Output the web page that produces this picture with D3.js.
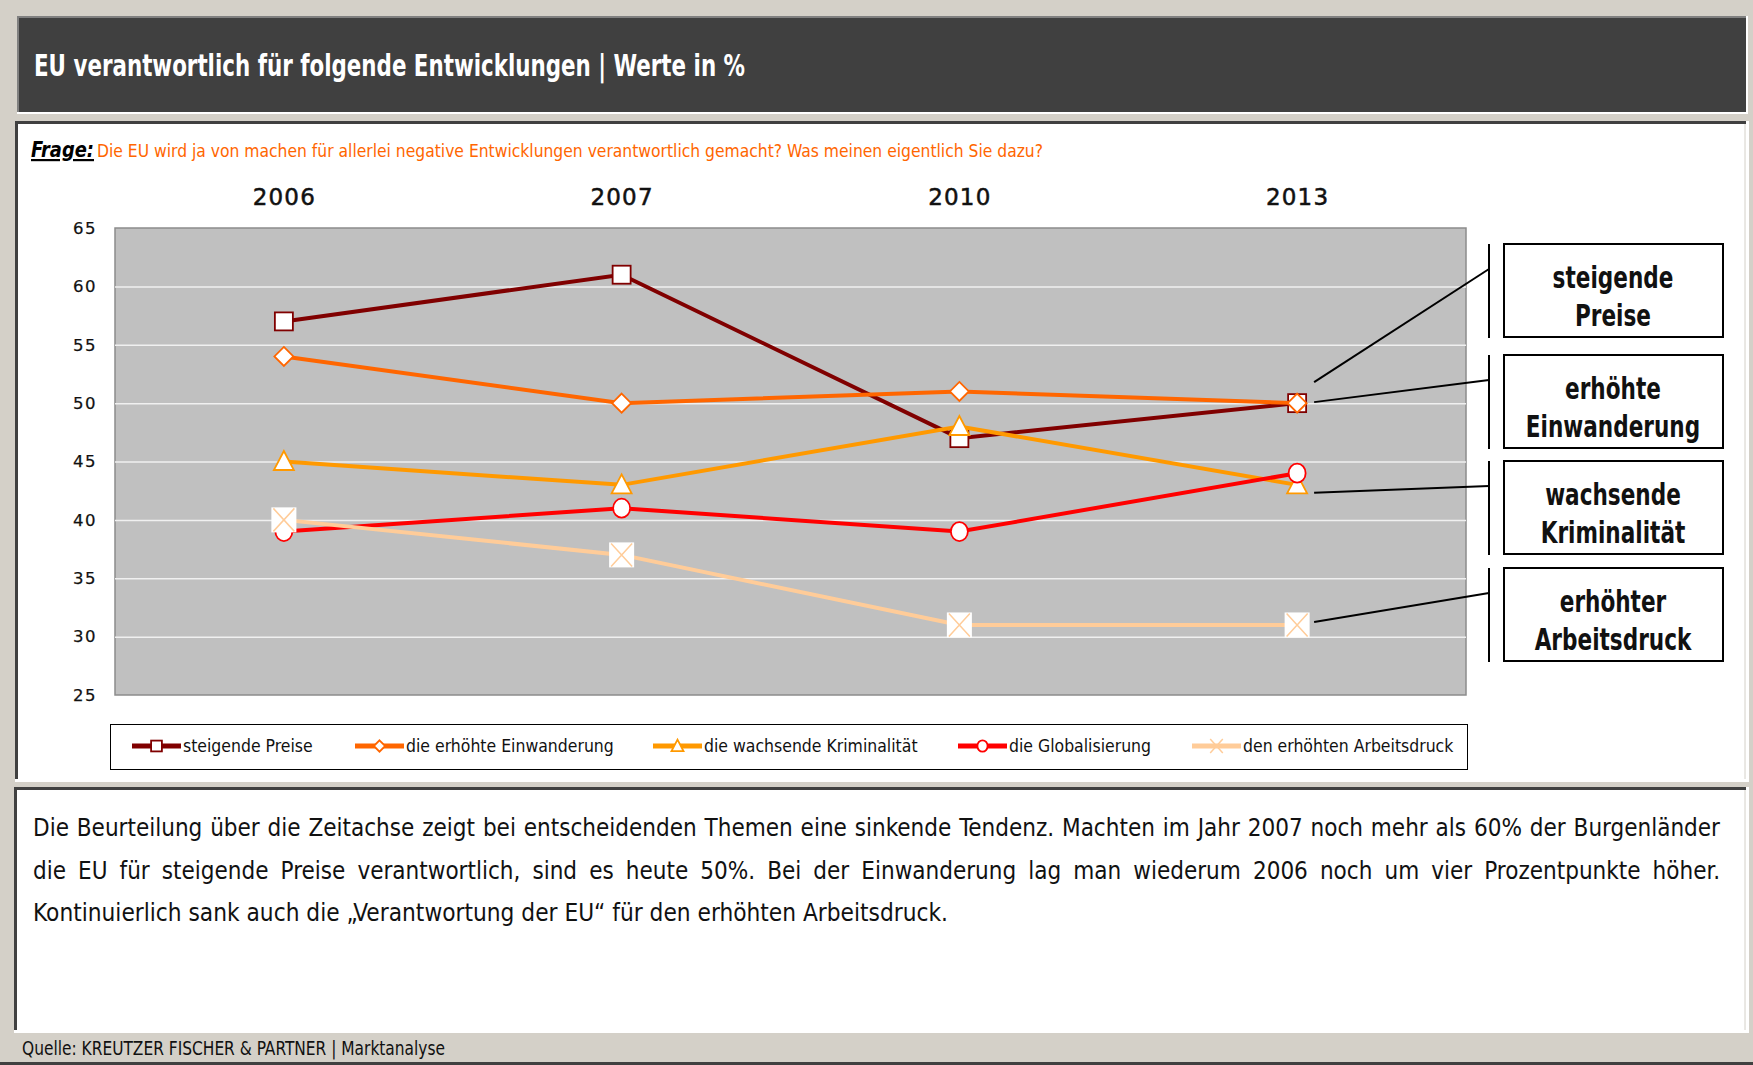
<!DOCTYPE html>
<html>
<head>
<meta charset="utf-8">
<script src="https://cdn.jsdelivr.net/npm/d3@7"></script>
<style>
  body { margin: 0; background: #d4d0c8; }
  svg { display: block; }
</style>
</head>
<body>
<div id="chart"></div>
<script>
// data
var years = ['2006', '2007', '2010', '2013']
var yTicks = [25, 30, 35, 40, 45, 50, 55, 60, 65]
var preise = [57, 61, 47, 50]
var einwanderung = [54, 50, 51, 50]
var kriminalitaet = [45, 43, 48, 43]
var globalisierung = [39, 41, 39, 44]
var arbeitsdruck = [40, 37, 31, 31]
var seriesNames = ['steigende Preise', 'die erhöhte Einwanderung', 'die wachsende Kriminalität', 'die Globalisierung', 'den erhöhten Arbeitsdruck']
var seriesColors = ['#800000', '#ff6600', '#ff9900', '#ff0000', '#ffcc99']
var seriesMarkers = ['square', 'diamond', 'triangle', 'circle', 'cross']
var calloutLabels = [['steigende', 'Preise'], ['erhöhte', 'Einwanderung'], ['wachsende', 'Kriminalität'], ['erhöhter', 'Arbeitsdruck']]
var calloutSeries = [0, 1, 2, 4]

var titleText = 'EU verantwortlich für folgende Entwicklungen | Werte in %'
var frageLabel = 'Frage:'
var frageText = 'Die EU wird ja von machen für allerlei negative Entwicklungen verantwortlich gemacht? Was meinen eigentlich Sie dazu?'
var bodyLines = [
  'Die Beurteilung über die Zeitachse zeigt bei entscheidenden Themen eine sinkende Tendenz. Machten im Jahr 2007 noch mehr als 60% der Burgenländer',
  'die EU für steigende Preise verantwortlich, sind es heute 50%. Bei der Einwanderung lag man wiederum 2006 noch um vier Prozentpunkte höher.',
  'Kontinuierlich sank auch die „Verantwortung der EU“ für den erhöhten Arbeitsdruck.'
]
var sourceText = 'Quelle: KREUTZER FISCHER & PARTNER | Marktanalyse'

var allSeries = [preise, einwanderung, kriminalitaet, globalisierung, arbeitsdruck]

var width = 1753, height = 1065
var narrow = "'Liberation Sans Narrow','DejaVu Sans Condensed','Open Sans',sans-serif"
var plot = { left: 115, right: 1466, top: 228, bottom: 695 }

var svg = d3.select('#chart')
  .append('svg')
  .attr('width', width)
  .attr('height', height)

svg.append('rect').attr('width', width).attr('height', height).attr('fill', '#d4d0c8')

// Title bar
svg.append('rect')
  .attr('x', 17).attr('y', 16).attr('width', 1731).attr('height', 98)
  .attr('fill', '#ffffff')
svg.append('rect')
  .attr('x', 17).attr('y', 16).attr('width', 1729).attr('height', 96)
  .attr('fill', '#808080')
svg.append('rect')
  .attr('x', 19).attr('y', 18).attr('width', 1727).attr('height', 94)
  .attr('fill', '#404040')
svg.append('text')
  .attr('x', 34).attr('y', 76)
  .attr('textLength', 711).attr('lengthAdjust', 'spacingAndGlyphs')
  .style('font-family', narrow).style('font-size', '30px').style('font-weight', 'bold')
  .style('fill', '#ffffff')
  .text(titleText)

// Chart panel
svg.append('rect')
  .attr('x', 15).attr('y', 121).attr('width', 1734).attr('height', 661)
  .attr('fill', '#ffffff')
svg.append('rect')
  .attr('x', 15).attr('y', 121).attr('width', 1731).attr('height', 658)
  .attr('fill', '#404040')
svg.append('rect')
  .attr('x', 18).attr('y', 124).attr('width', 1728).attr('height', 655)
  .attr('fill', '#ffffff')
svg.append('line')
  .attr('x1', 1745).attr('x2', 1745).attr('y1', 124).attr('y2', 779)
  .style('stroke', '#d4d0c8').style('stroke-width', 1)

// Frage line
svg.append('text')
  .attr('x', 31).attr('y', 157)
  .attr('textLength', 63).attr('lengthAdjust', 'spacingAndGlyphs')
  .style('font-family', narrow)
  .style('font-size', '22px').style('font-weight', 'bold').style('font-style', 'italic')
  .style('text-decoration', 'underline').style('fill', '#000')
  .text(frageLabel)
svg.append('text')
  .attr('x', 97).attr('y', 157)
  .attr('textLength', 946).attr('lengthAdjust', 'spacingAndGlyphs')
  .style('font-family', narrow)
  .style('font-size', '18px').style('fill', '#ff6600')
  .text(frageText)

// Text panel
svg.append('rect')
  .attr('x', 14).attr('y', 787).attr('width', 1735).attr('height', 246)
  .attr('fill', '#ffffff')
svg.append('rect')
  .attr('x', 14).attr('y', 787).attr('width', 1732).attr('height', 243)
  .attr('fill', '#404040')
svg.append('rect')
  .attr('x', 17).attr('y', 790).attr('width', 1729).attr('height', 240)
  .attr('fill', '#ffffff')
svg.append('line')
  .attr('x1', 1745).attr('x2', 1745).attr('y1', 790).attr('y2', 1030)
  .style('stroke', '#d4d0c8').style('stroke-width', 1)
svg.append('rect')
  .attr('x', 0).attr('y', 1062).attr('width', width).attr('height', 3)
  .attr('fill', '#404040')

// Plot area
svg.append('rect')
  .attr('x', plot.left).attr('y', plot.top)
  .attr('width', plot.right - plot.left).attr('height', plot.bottom - plot.top)
  .attr('fill', '#c0c0c0')
  .style('stroke', '#8c8c8c').style('stroke-width', 1.5)

var xScale = d3.scalePoint()
  .domain(years)
  .range([plot.left, plot.right])
  .padding(0.5)

var yScale = d3.scaleLinear()
  .domain([d3.min(yTicks), d3.max(yTicks)])
  .range([plot.bottom, plot.top])

// Grid
svg.append('g')
  .attr('class', 'grid')
  .attr('transform', `translate(${plot.left},0)`)
  .call(d3.axisLeft(yScale).tickValues(yTicks.slice(1, -1)).tickSize(-(plot.right - plot.left)).tickFormat(''))
  .call(g => g.select('.domain').remove())
  .selectAll('line')
  .style('stroke', '#f0f0f0').style('stroke-width', 1.5)

// Y axis
svg.append('g')
  .attr('class', 'y-axis')
  .attr('transform', `translate(${plot.left},0)`)
  .call(d3.axisLeft(yScale).tickValues(yTicks).tickSize(0).tickPadding(18))
  .call(g => g.select('.domain').remove())
  .selectAll('text')
  .style('font-family', "'DejaVu Sans',sans-serif")
  .style('font-size', '16.5px')
  .style('letter-spacing', '1.5px')
  .style('fill', '#111')
  .style('stroke', '#111').style('stroke-width', 0.25)

// Year labels on top
svg.append('g')
  .attr('class', 'x-axis')
  .attr('transform', `translate(0,${plot.top - 23})`)
  .call(d3.axisTop(xScale).tickSize(0).tickPadding(0))
  .call(g => g.select('.domain').remove())
  .selectAll('text')
  .style('font-family', "'DejaVu Sans',sans-serif")
  .style('font-size', '23px')
  .style('letter-spacing', '1.2px')
  .style('fill', '#111')
  .style('stroke', '#111').style('stroke-width', 0.5)

function drawMarker(g, type, cx, cy, color, s) {
  if (type === 'square') {
    g.append('rect')
      .attr('x', cx - 9 * s).attr('y', cy - 9 * s)
      .attr('width', 18 * s).attr('height', 18 * s)
      .attr('fill', '#fff').style('stroke', color).style('stroke-width', 1.8)
  } else if (type === 'diamond') {
    g.append('path')
      .attr('d', `M${cx},${cy - 9.5 * s}L${cx + 9.5 * s},${cy}L${cx},${cy + 9.5 * s}L${cx - 9.5 * s},${cy}Z`)
      .attr('fill', '#fff').style('stroke', color).style('stroke-width', 1.8)
  } else if (type === 'triangle') {
    g.append('path')
      .attr('d', `M${cx},${cy - 10.5 * s}L${cx + 10 * s},${cy + 8.5 * s}L${cx - 10 * s},${cy + 8.5 * s}Z`)
      .attr('fill', '#fff').style('stroke', color).style('stroke-width', 1.8)
  } else if (type === 'circle') {
    g.append('ellipse')
      .attr('cx', cx).attr('cy', cy).attr('rx', 8.5 * s).attr('ry', 9.5 * s)
      .attr('fill', '#fff').style('stroke', color).style('stroke-width', 1.8)
  } else if (type === 'cross') {
    if (s === 1) {
      g.append('rect')
        .attr('x', cx - 12.5).attr('y', cy - 12.5).attr('width', 25).attr('height', 25)
        .attr('fill', '#fff')
    }
    g.append('path')
      .attr('d', `M${cx - 10.5 * s},${cy - 11.5 * s}L${cx + 10.5 * s},${cy + 11.5 * s}M${cx + 10.5 * s},${cy - 11.5 * s}L${cx - 10.5 * s},${cy + 11.5 * s}`)
      .style('stroke', color).style('stroke-width', 1.5).attr('fill', 'none')
  }
}

// Lines + markers
var line = d3.line()
  .x((d, i) => xScale(years[i]))
  .y(d => yScale(d))

var linesG = svg.append('g').attr('class', 'lines')
allSeries.forEach(function(values, si) {
  var sg = linesG.append('g').attr('class', 'series s' + si)
  sg.append('path')
    .datum(values)
    .attr('d', line)
    .attr('fill', 'none')
    .style('stroke', seriesColors[si])
    .style('stroke-width', 4)
  values.forEach(function(v, i) {
    drawMarker(sg, seriesMarkers[si], xScale(years[i]), yScale(v), seriesColors[si], 1)
  })
})

// Legend
var legendX = [132, 355, 653, 958, 1192]
svg.append('rect')
  .attr('x', 110.5).attr('y', 724.5).attr('width', 1357).attr('height', 45)
  .attr('fill', '#fff').style('stroke', '#000').style('stroke-width', 1)
var legend = svg.append('g').attr('class', 'legend')
seriesNames.forEach(function(name, si) {
  var lx = legendX[si], ly = 746
  legend.append('line')
    .attr('x1', lx).attr('x2', lx + 49).attr('y1', ly).attr('y2', ly)
    .style('stroke', seriesColors[si]).style('stroke-width', 5)
  drawMarker(legend, seriesMarkers[si], lx + 24.5, ly, seriesColors[si], 0.6)
  var t = legend.append('text')
    .attr('x', lx + 51).attr('y', ly + 6)
    .style('font-family', narrow).style('font-size', '18px').style('fill', '#111')
    .text(name)
  t.attr('textLength', t.node().getComputedTextLength() * 0.97).attr('lengthAdjust', 'spacingAndGlyphs')
})

// Callouts
var calloutTop = [244, 355, 461, 568]
var calloutStartDy = [-21, -1, 8, -3]
var callouts = svg.append('g').attr('class', 'callouts')
calloutLabels.forEach(function(lbl, k) {
  var top = calloutTop[k]
  var barX = 1489
  var si = calloutSeries[k]
  var sx = xScale('2013') + 17, sy = yScale(allSeries[si][3]) + calloutStartDy[k]
  callouts.append('line')
    .attr('x1', sx).attr('y1', sy).attr('x2', barX).attr('y2', top + 25)
    .style('stroke', '#000').style('stroke-width', 2)
  callouts.append('line')
    .attr('x1', barX).attr('x2', barX).attr('y1', top).attr('y2', top + 94)
    .style('stroke', '#000').style('stroke-width', 2)
  callouts.append('rect')
    .attr('x', 1504).attr('y', top).attr('width', 219).attr('height', 93)
    .attr('fill', '#fff').style('stroke', '#000').style('stroke-width', 2)
  lbl.forEach(function(t, j) {
    var tx = callouts.append('text')
      .attr('x', 1613).attr('y', top + 44 + j * 38)
      .attr('text-anchor', 'middle')
      .style('font-family', narrow).style('font-size', '30px').style('font-weight', 'bold')
      .style('fill', '#111')
      .text(t)
    tx.attr('textLength', tx.node().getComputedTextLength() * 0.8).attr('lengthAdjust', 'spacingAndGlyphs')
  })
})

// Body text (justified lines 1 and 2)
var body = svg.append('g').attr('class', 'body-text')
var bodyLeft = 33, bodyRight = 1720
bodyLines.forEach(function(txt, li) {
  var by = 836 + li * 42.5
  if (li < bodyLines.length - 1) {
    var words = txt.split(' ')
    var nodes = words.map(function(w) {
      return body.append('text')
        .attr('y', by)
        .style('font-family', narrow).style('font-size', '24px').style('fill', '#111')
        .text(w)
    })
    var widths = nodes.map(n => n.node().getComputedTextLength())
    var total = d3.sum(widths)
    var gap = (bodyRight - bodyLeft - total) / (words.length - 1)
    var x = bodyLeft
    nodes.forEach(function(n, i) {
      n.attr('x', x)
      x += widths[i] + gap
    })
  } else {
    body.append('text')
      .attr('x', bodyLeft).attr('y', by)
      .attr('textLength', 915).attr('lengthAdjust', 'spacingAndGlyphs')
      .style('font-family', narrow).style('font-size', '24px').style('fill', '#111')
      .text(txt)
  }
})

// Source
svg.append('text')
  .attr('x', 22).attr('y', 1055)
  .attr('textLength', 423).attr('lengthAdjust', 'spacingAndGlyphs')
  .style('font-family', narrow).style('font-size', '19px').style('fill', '#111')
  .text(sourceText)
</script>
</body>
</html>
